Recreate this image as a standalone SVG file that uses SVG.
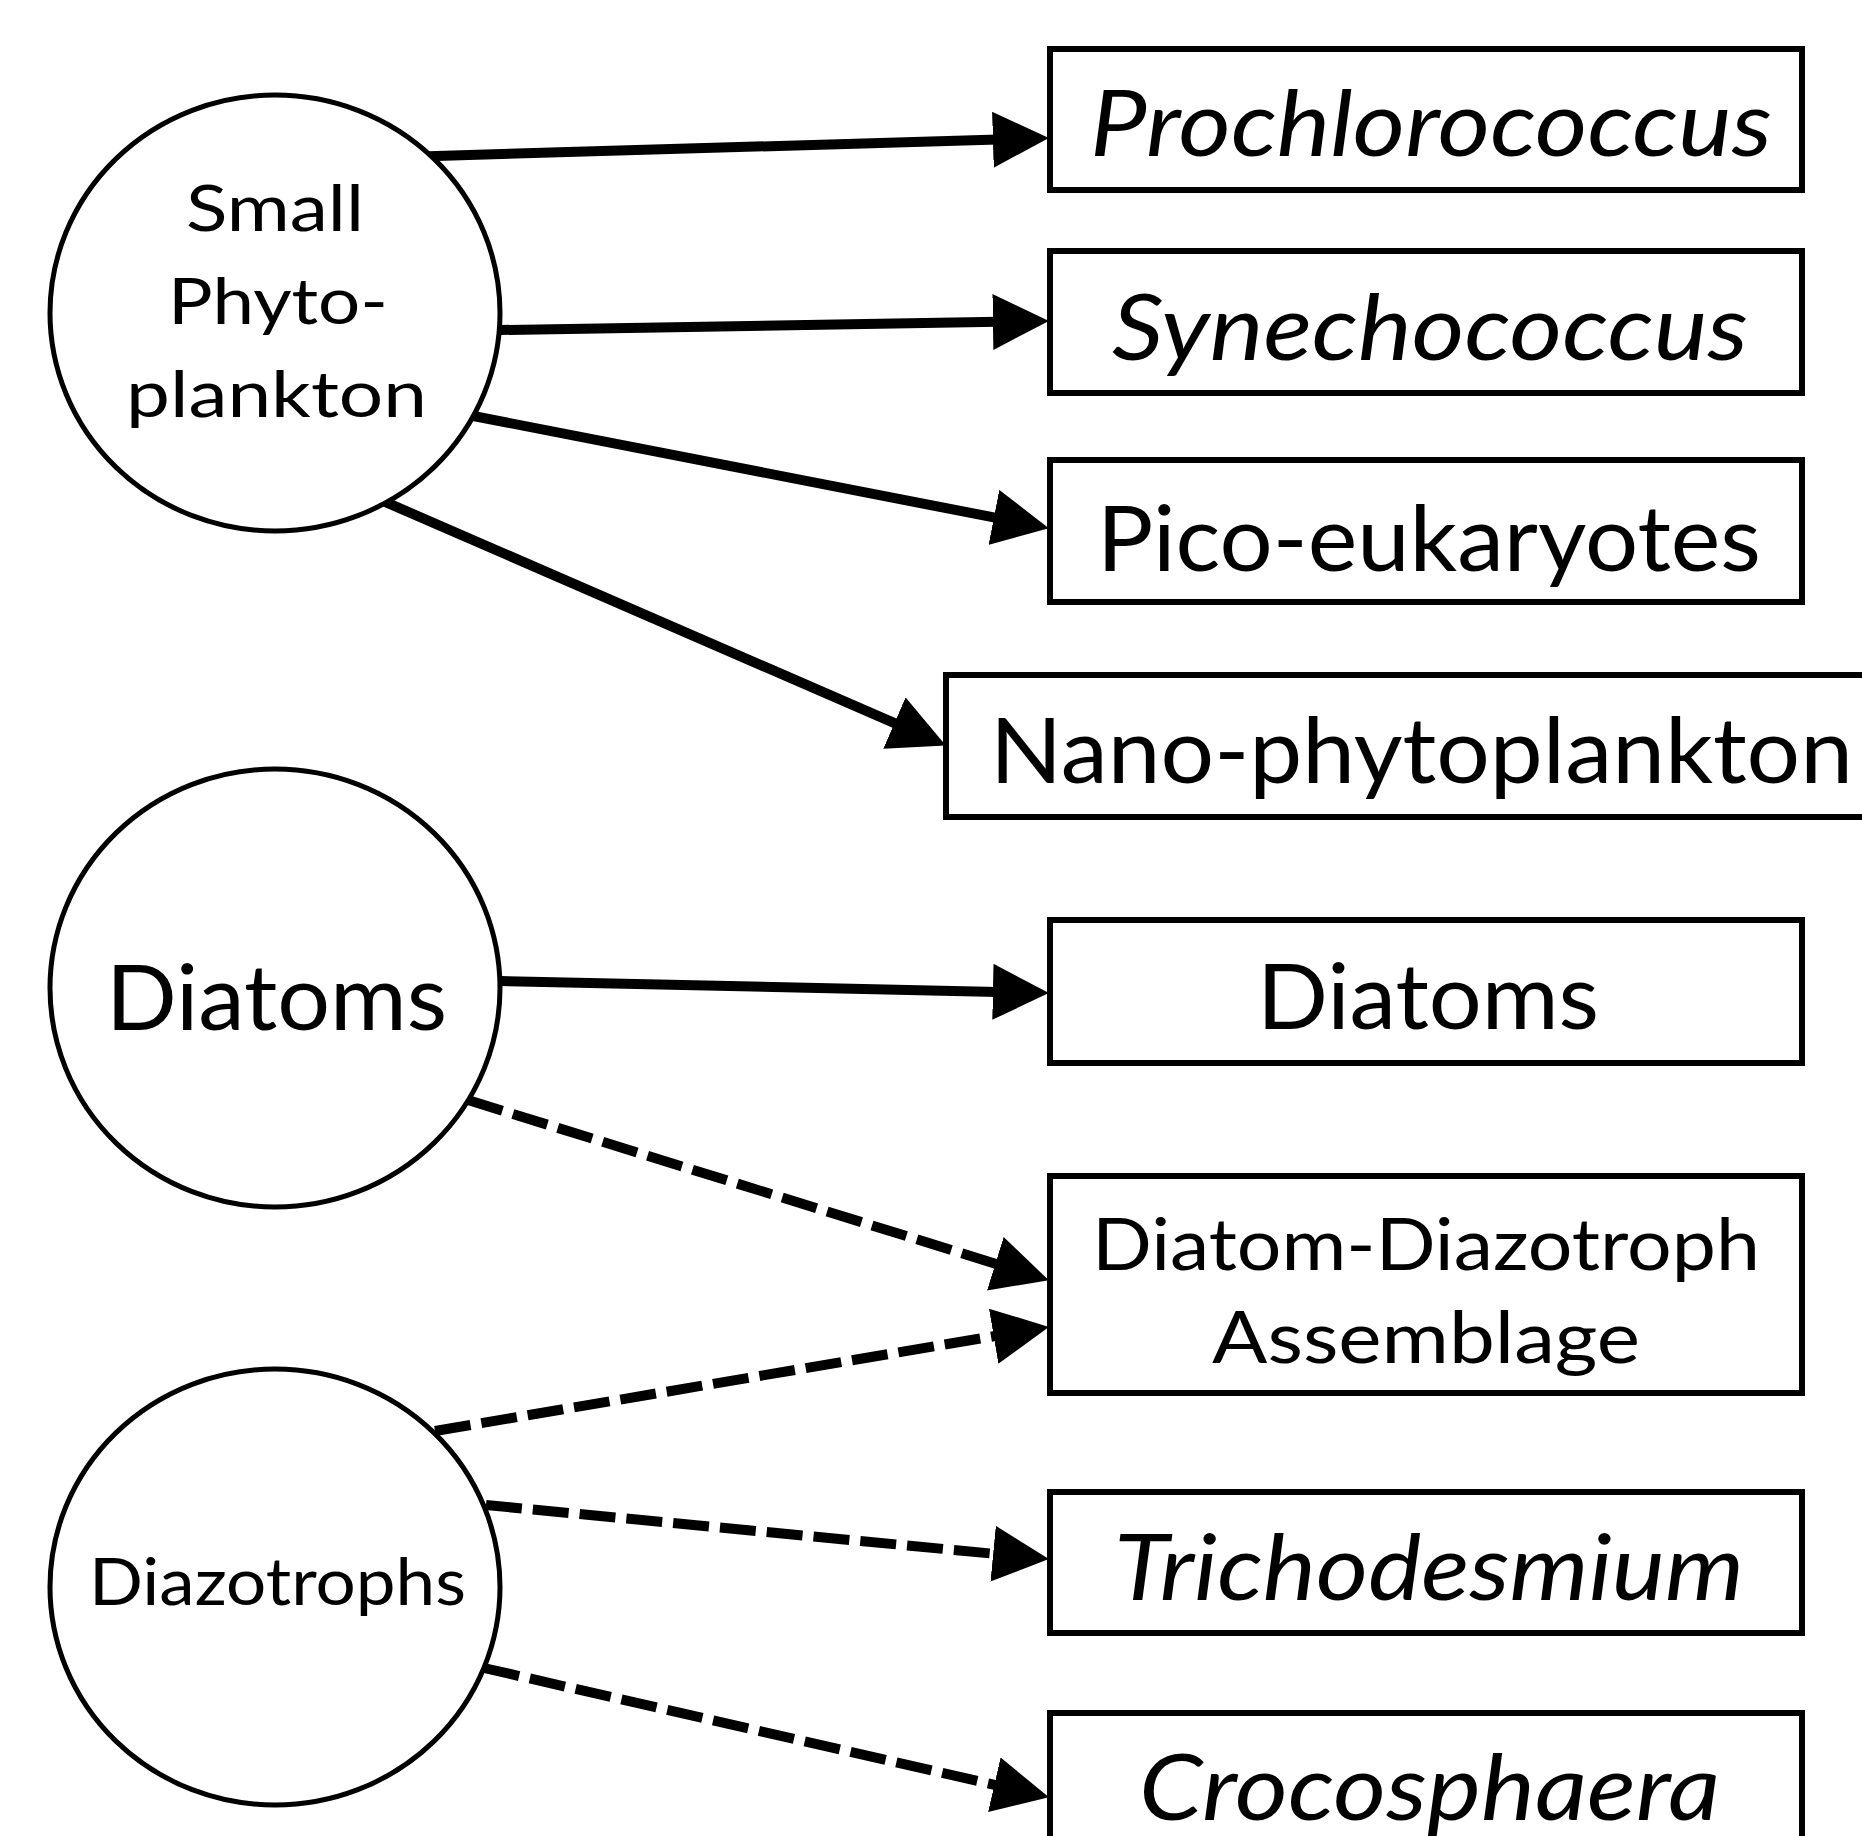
<svg xmlns="http://www.w3.org/2000/svg" width="1862" height="1836" viewBox="0 0 1862 1836">
<style>
.node{fill:#fff;stroke:#000;stroke-width:5}
.box{fill:#fff;stroke:#000;stroke-width:6}
.t{font-family:Lato,"Open Sans","Liberation Sans",sans-serif;fill:#000}
.it{font-style:italic}
.c{fill:none;stroke:#000;stroke-width:10}
.d{stroke-dasharray:36 11}
</style>
<defs>
<marker id="ah" markerUnits="userSpaceOnUse" markerWidth="56" markerHeight="56" viewBox="0 0 55 55" refX="5" refY="27.5" orient="auto">
<path d="M0,0 L55,27.5 L0,55 Z" fill="#000"/>
</marker>
</defs>
<rect width="1862" height="1836" fill="#fff"/>
<g id="connectors">
<line class="c" x1="420" y1="156.4" x2="998.0" y2="139.5" marker-end="url(#ah)"/>
<line class="c" x1="490" y1="330.2" x2="998.0" y2="321.8" marker-end="url(#ah)"/>
<line class="c" x1="463" y1="414" x2="998.9" y2="518.4" marker-end="url(#ah)"/>
<line class="c" x1="380" y1="499.7" x2="899.1" y2="725.1" marker-end="url(#ah)"/>
<line class="c" x1="490" y1="980.8" x2="998.0" y2="991.9" marker-end="url(#ah)"/>
<line class="c d" x1="468" y1="1100" x2="1000.2" y2="1265.2" marker-end="url(#ah)"/>
<line class="c d" x1="435" y1="1431" x2="998.7" y2="1335.4" marker-end="url(#ah)"/>
<line class="c d" x1="486" y1="1505" x2="998.2" y2="1554.2" marker-end="url(#ah)"/>
<line class="c d" x1="484" y1="1668" x2="999.3" y2="1785.9" marker-end="url(#ah)"/>
</g>
<g id="small-phytoplankton">
<ellipse class="node" cx="275" cy="313" rx="225" ry="218"/>
<text class="t" x="186" y="231" font-size="63" textLength="178" lengthAdjust="spacingAndGlyphs">Small</text>
<text class="t" x="168" y="324" font-size="63" textLength="220" lengthAdjust="spacingAndGlyphs">Phyto-</text>
<text class="t" x="126" y="417" font-size="63" textLength="301" lengthAdjust="spacingAndGlyphs">plankton</text>
</g>
<g id="diatoms-group">
<ellipse class="node" cx="275" cy="988" rx="225" ry="219"/>
<text class="t" x="106" y="1030" font-size="91" textLength="341" lengthAdjust="spacingAndGlyphs">Diatoms</text>
</g>
<g id="diazotrophs-group">
<ellipse class="node" cx="275" cy="1587" rx="225" ry="218"/>
<text class="t" x="89" y="1605" font-size="66" textLength="377" lengthAdjust="spacingAndGlyphs">Diazotrophs</text>
</g>
<g id="prochlorococcus">
<rect class="box" x="1050" y="49" width="752" height="141"/>
<text class="t it" x="1090" y="156" font-size="91" textLength="682" lengthAdjust="spacingAndGlyphs">Prochlorococcus</text>
</g>
<g id="synechococcus">
<rect class="box" x="1050" y="251" width="752" height="142"/>
<text class="t it" x="1112" y="360" font-size="91" textLength="636" lengthAdjust="spacingAndGlyphs">Synechococcus</text>
</g>
<g id="pico-eukaryotes">
<rect class="box" x="1050" y="460" width="752" height="142"/>
<text class="t" x="1097" y="571" font-size="91" textLength="664" lengthAdjust="spacingAndGlyphs">Pico-eukaryotes</text>
</g>
<g id="nano-phytoplankton">
<rect class="box" x="946" y="675" width="930" height="142"/>
<text class="t" x="990" y="783" font-size="91" textLength="863" lengthAdjust="spacingAndGlyphs">Nano-phytoplankton</text>
</g>
<g id="diatoms">
<rect class="box" x="1050" y="920" width="752" height="143"/>
<text class="t" x="1257" y="1029" font-size="91" textLength="342" lengthAdjust="spacingAndGlyphs">Diatoms</text>
</g>
<g id="diatom-diazotroph-assemblage">
<rect class="box" x="1050" y="1176" width="752" height="217"/>
<text class="t" x="1092" y="1270" font-size="72" textLength="668" lengthAdjust="spacingAndGlyphs">Diatom-Diazotroph</text>
<text class="t" x="1212" y="1363" font-size="72" textLength="428" lengthAdjust="spacingAndGlyphs">Assemblage</text>
</g>
<g id="trichodesmium">
<rect class="box" x="1050" y="1492" width="752" height="141"/>
<text class="t it" x="1114" y="1600" font-size="91" textLength="630" lengthAdjust="spacingAndGlyphs">Trichodesmium</text>
</g>
<g id="crocosphaera">
<rect class="box" x="1050" y="1713" width="752" height="150"/>
<text class="t it" x="1139" y="1820" font-size="91" textLength="581" lengthAdjust="spacingAndGlyphs">Crocosphaera</text>
</g>
</svg>
